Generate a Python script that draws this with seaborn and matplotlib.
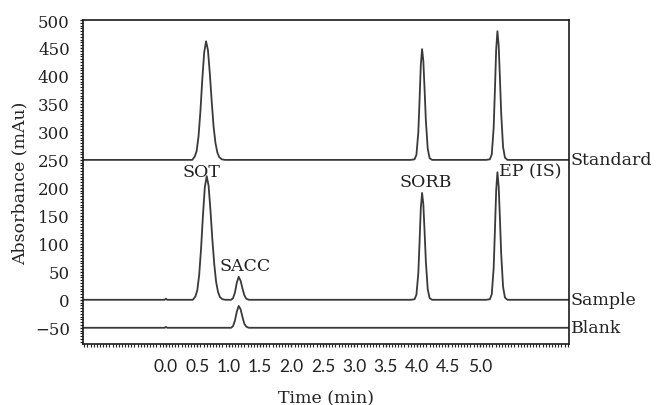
import matplotlib
matplotlib.use("Agg")
import matplotlib.pyplot as plt
from matplotlib.ticker import MultipleLocator, FixedLocator
import matplotlib.transforms as mtransforms
import seaborn as sns
import pandas as pd

# Chromatogram traces: retention time (min) and absorbance (mAu)
standard_time = [-1.32, 0.42, 0.46, 0.49, 0.52, 0.55, 0.58, 0.61, 0.64, 0.67, 0.70,
                 0.73, 0.76, 0.79, 0.82, 0.85, 0.89, 0.94,
                 3.90, 3.96, 3.99, 4.02, 4.04, 4.06, 4.08, 4.10, 4.12, 4.14, 4.17, 4.20, 4.24,
                 5.10, 5.16, 5.19, 5.22, 5.24, 5.26, 5.28, 5.30, 5.32, 5.34, 5.37, 5.40, 5.44,
                 6.42]
standard_abs = [250, 250, 256, 266, 292, 337, 394, 442, 462, 446, 404,
                354, 309, 280, 263, 255, 251, 250,
                250, 251, 259, 299, 357, 420, 448, 427, 376, 321, 270, 253, 250,
                250, 251, 260, 307, 374, 447, 480, 455, 396, 333, 273, 254, 250,
                250]

sample_time = [-1.32, -0.02, 0.00, 0.02, 0.43, 0.47, 0.50, 0.53, 0.56, 0.59, 0.62, 0.65,
               0.68, 0.71, 0.74, 0.77, 0.80, 0.83, 0.86, 0.90, 0.95,
               1.04, 1.07, 1.10, 1.13, 1.16, 1.19, 1.22, 1.25, 1.28, 1.32,
               3.90, 3.96, 3.99, 4.02, 4.04, 4.06, 4.08, 4.10, 4.12, 4.14, 4.17, 4.20, 4.24,
               5.10, 5.16, 5.19, 5.22, 5.24, 5.26, 5.28, 5.30, 5.32, 5.34, 5.37, 5.40, 5.44,
               6.42]
sample_abs = [0, 0, 2, 0, 0, 6, 17, 44, 91, 150, 201, 221,
              204, 160, 108, 64, 32, 14, 5, 1, 0,
              0, 3, 13, 31, 41, 34, 20, 8, 2, 0,
              0, 1, 9, 47, 103, 164, 191, 171, 122, 69, 19, 3, 0,
              0, 1, 10, 56, 123, 195, 228, 203, 145, 82, 23, 4, 0,
              0]

blank_time = [-1.32, -0.02, 0.00, 0.02, 1.04, 1.07, 1.10, 1.13, 1.16, 1.19, 1.22,
              1.25, 1.28, 1.32, 6.42]
blank_abs = [-50, -50, -48.5, -50, -50, -47, -37, -21, -11, -17, -31,
             -43, -48, -50, -50]

trace_names = ["Standard", "Sample", "Blank"]
trace_baselines = [250, 0, -50]

peak_labels = ["SOT", "SACC", "SORB", "EP (IS)"]
peak_label_time = [0.57, 1.26, 4.13, 5.81]
peak_label_abs = [230, 61, 211, 230]

x_tick_values = [0.0, 0.5, 1.0, 1.5, 2.0, 2.5, 3.0, 3.5, 4.0, 4.5, 5.0]
x_tick_labels = ["0.0", "0.5", "1.0", "1.5", "2.0", "2.5", "3.0", "3.5", "4.0", "4.5", "5.0"]
y_tick_values = [-50, 0, 50, 100, 150, 200, 250, 300, 350, 400, 450, 500]

frames = []
for name, t, a in zip(trace_names,
                      [standard_time, sample_time, blank_time],
                      [standard_abs, sample_abs, blank_abs]):
    frames.append(pd.DataFrame({"time": t, "absorbance": a, "trace": name}))
data = pd.concat(frames, ignore_index=True)

sns.set_style("ticks")
plt.rcParams["font.family"] = ["DejaVu Serif"]

fig = plt.figure(figsize=(6.58, 4.06), dpi=100)
ax = fig.add_axes([83 / 658, 1 - 345 / 406, (569 - 83) / 658, (345 - 21) / 406])

line_color = "#3a3a3a"
sns.lineplot(data=data, x="time", y="absorbance", hue="trace",
             palette={n: line_color for n in trace_names},
             estimator=None, sort=False, linewidth=1.3, legend=False, ax=ax)

ax.set_xlim(-1.32, 6.42)
ax.set_ylim(-79, 500)

text_color = "#222222"
for lab, t, a in zip(peak_labels, peak_label_time, peak_label_abs):
    ax.text(t, a, lab, ha="center", va="center", fontsize=12.5, color=text_color)

blend = mtransforms.blended_transform_factory(ax.transAxes, ax.transData)
for name, base in zip(trace_names, trace_baselines):
    ax.text(1.004, base, name, transform=blend, ha="left", va="center",
            fontsize=12.5, color=text_color)

ax.xaxis.set_major_locator(FixedLocator(x_tick_values))
ax.set_xticklabels(x_tick_labels, fontfamily="Lato", fontsize=12.5, color=text_color)
ax.xaxis.set_minor_locator(MultipleLocator(0.05))
ax.yaxis.set_major_locator(FixedLocator(y_tick_values))
ax.set_yticklabels([str(v).replace("-", "\u2212") for v in y_tick_values],
                   fontsize=12, color=text_color)
ax.yaxis.set_minor_locator(MultipleLocator(5))

ax.tick_params(axis="x", which="major", direction="out", length=2.5, width=1.0,
               pad=7.5, color="#222222")
ax.tick_params(axis="x", which="minor", direction="out", length=2.0, width=0.8,
               color="#222222")
ax.tick_params(axis="y", which="major", direction="out", length=2.5, width=1.0,
               pad=7, color="#222222")
ax.tick_params(axis="y", which="minor", direction="out", length=2.0, width=0.8,
               color="#222222")

for side in ["top", "right", "bottom", "left"]:
    ax.spines[side].set_visible(True)
    ax.spines[side].set_color("#1a1a1a")
    ax.spines[side].set_linewidth(1.2)

ax.set_xlabel("Time (min)", fontsize=12.5, color=text_color)
ax.xaxis.set_label_coords(0.5, -0.165)
ax.xaxis.label.set_va("center")
ax.set_ylabel("Absorbance (mAu)", fontsize=12.5, color=text_color)
ax.yaxis.set_label_coords(-0.13, 0.5)
ax.yaxis.label.set_va("center")

fig.savefig("out.png", dpi=100)
